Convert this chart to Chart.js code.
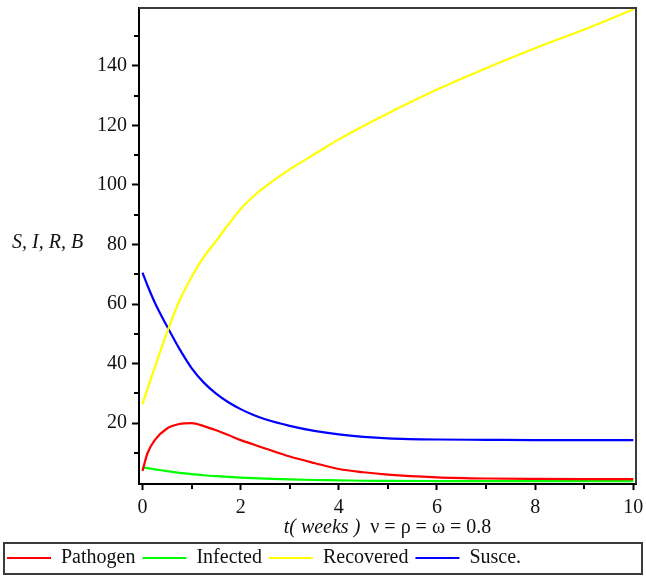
<!DOCTYPE html>
<html>
<head>
<meta charset="utf-8">
<script src="https://cdn.jsdelivr.net/npm/chart.js@4.4.1/dist/chart.umd.min.js"></script>
<style>
  html, body { margin: 0; padding: 0; background: #fff; }
  #wrap { position: relative; width: 646px; height: 576px; }
</style>
</head>
<body>
<div id="wrap"><canvas id="chart"></canvas></div>
<script>
// values (t in weeks)
const times = [0, 0.1, 0.25, 0.5, 0.75, 1, 1.25, 1.5, 1.75, 2, 2.25, 2.5, 3, 3.5, 4, 4.5, 5, 6, 7, 8, 9, 10];
const pathogen = [3.9, 9.8, 14.3, 18.2, 19.7, 20.0, 19.0, 17.6, 16.0, 14.3, 12.9, 11.5, 8.8, 6.6, 4.6, 3.5, 2.7, 1.8, 1.4, 1.25, 1.2, 1.2];
const infected = [5.1, 4.9, 4.5, 3.9, 3.3, 2.9, 2.5, 2.2, 1.95, 1.7, 1.5, 1.35, 1.1, 0.9, 0.8, 0.65, 0.6, 0.55, 0.5, 0.5, 0.5, 0.5];
const recovered = [26.4, 31.5, 38.7, 50.5, 61, 69.1, 75.8, 81.2, 86.7, 91.9, 96.0, 99.4, 105.2, 110.3, 115.3, 119.8, 124.0, 132.0, 139.2, 145.9, 152.2, 158.9];
const susceptible = [70.5, 66.3, 60.5, 52.5, 45, 38.5, 33.6, 29.9, 27.0, 24.7, 22.8, 21.3, 19.1, 17.4, 16.2, 15.4, 14.9, 14.5, 14.4, 14.3, 14.3, 14.3];

const seriesNames = ["Pathogen", "Infected", "Recovered", "Susce."];
const seriesColors = ["#ff0000", "#00ff00", "#ffff00", "#0000ff"];

const majorX = [0, 2, 4, 6, 8, 10];
const minorX = [1, 3, 5, 7, 9];
const majorY = [20, 40, 60, 80, 100, 120, 140];
const minorY = [10, 30, 50, 70, 90, 110, 130, 150];

const yTitle = "S, I, R, B";
const xTitleItalic = "t( weeks )";
const xTitleRest = "  \u03bd = \u03c1 = \u03c9 = 0.8";

const serif = "'Liberation Serif', 'Times New Roman', serif";
const inkColor = "#111";

function points(values) {
  return values.map((v, i) => ({ x: times[i], y: v }));
}

function tickList(major, minor) {
  return major.concat(minor).sort((a, b) => a - b).map((v) => ({ value: v }));
}

// draws the grey top/right frame, the short minor ticks, axis titles and legend box
const decorations = {
  id: "decorations",
  afterDraw(chart) {
    const { ctx, chartArea: a, scales } = chart;
    ctx.save();
    ctx.strokeStyle = "#3a3a3a";
    ctx.lineWidth = 2;
    ctx.beginPath();
    ctx.moveTo(a.left, a.top);
    ctx.lineTo(a.right, a.top);
    ctx.lineTo(a.right, a.bottom);
    ctx.stroke();

    ctx.strokeStyle = "#000";
    ctx.lineWidth = 2;
    minorX.forEach((v) => {
      const x = Math.round(scales.x.getPixelForValue(v));
      ctx.beginPath();
      ctx.moveTo(x, a.bottom);
      ctx.lineTo(x, a.bottom + 5);
      ctx.stroke();
    });
    minorY.forEach((v) => {
      const y = Math.round(scales.y.getPixelForValue(v));
      ctx.beginPath();
      ctx.moveTo(a.left, y);
      ctx.lineTo(a.left - 5, y);
      ctx.stroke();
    });

    ctx.fillStyle = inkColor;
    ctx.textBaseline = "middle";
    ctx.textAlign = "left";
    ctx.font = "italic 20px " + serif;
    ctx.fillText(yTitle, 12, 243);

    const wItalic = ctx.measureText(xTitleItalic).width;
    ctx.font = "20px " + serif;
    const wRest = ctx.measureText(xTitleRest).width;
    const cx = (a.left + a.right) / 2;
    const x0 = cx - (wItalic + wRest) / 2;
    ctx.font = "italic 20px " + serif;
    ctx.fillText(xTitleItalic, x0, 528);
    ctx.font = "20px " + serif;
    ctx.fillText(xTitleRest, x0 + wItalic, 528);

    ctx.strokeStyle = "#3a3a3a";
    ctx.lineWidth = 2;
    ctx.strokeRect(4, 543, 638, 31);
    ctx.restore();
  }
};

const datasets = [pathogen, infected, recovered, susceptible].map((vals, i) => ({
  label: seriesNames[i],
  data: points(vals),
  borderColor: seriesColors[i],
  backgroundColor: seriesColors[i],
  borderWidth: 2.2,
  pointRadius: 0,
  cubicInterpolationMode: "monotone",
  fill: false
}));

new Chart(document.getElementById("chart"), {
  type: "line",
  data: { datasets },
  plugins: [decorations],
  options: {
    responsive: true,
    maintainAspectRatio: false,
    animation: false,
    layout: { padding: { top: 8, right: 10, left: 0, bottom: -2 } },
    plugins: {
      tooltip: { enabled: false },
      legend: {
        position: "bottom",
        align: "start",
        labels: {
          boxWidth: 44,
          boxHeight: 2,
          padding: 7,
          color: inkColor,
          font: { family: serif, size: 20 },
          generateLabels(chart) {
            return Chart.defaults.plugins.legend.labels.generateLabels(chart).map((l) => ({
              ...l, lineWidth: 0, fillStyle: l.strokeStyle
            }));
          }
        }
      }
    },
    scales: {
      x: {
        type: "linear",
        min: -0.071,
        max: 10.055,
        afterBuildTicks: (s) => { s.ticks = tickList(majorX, minorX); },
        afterFit: (s) => { s.height = 57; s.paddingLeft = 0; s.paddingRight = 0; },
        border: { color: "#000", width: 2 },
        grid: {
          drawOnChartArea: false,
          tickLength: 6,
          tickWidth: 2,
          tickColor: (c) => (majorX.includes(c.tick && c.tick.value) ? "#000" : "rgba(0,0,0,0)")
        },
        ticks: {
          autoSkip: false,
          maxRotation: 0,
          padding: 6,
          color: inkColor,
          font: { family: serif, size: 20 },
          callback: (v) => (majorX.includes(v) ? String(v) : "")
        }
      },
      y: {
        type: "linear",
        min: -0.44,
        max: 159.4,
        afterBuildTicks: (s) => { s.ticks = tickList(majorY, minorY); },
        afterFit: (s) => { s.width = 139; s.paddingTop = 0; s.paddingBottom = 0; },
        border: { color: "#000", width: 2 },
        grid: {
          drawOnChartArea: false,
          tickLength: 7,
          tickWidth: 2,
          tickColor: (c) => (majorY.includes(c.tick && c.tick.value) ? "#000" : "rgba(0,0,0,0)")
        },
        ticks: {
          autoSkip: false,
          padding: 5,
          color: inkColor,
          font: { family: serif, size: 20 },
          callback: (v) => (majorY.includes(v) ? String(v) : "")
        }
      }
    }
  }
});
</script>
</body>
</html>
